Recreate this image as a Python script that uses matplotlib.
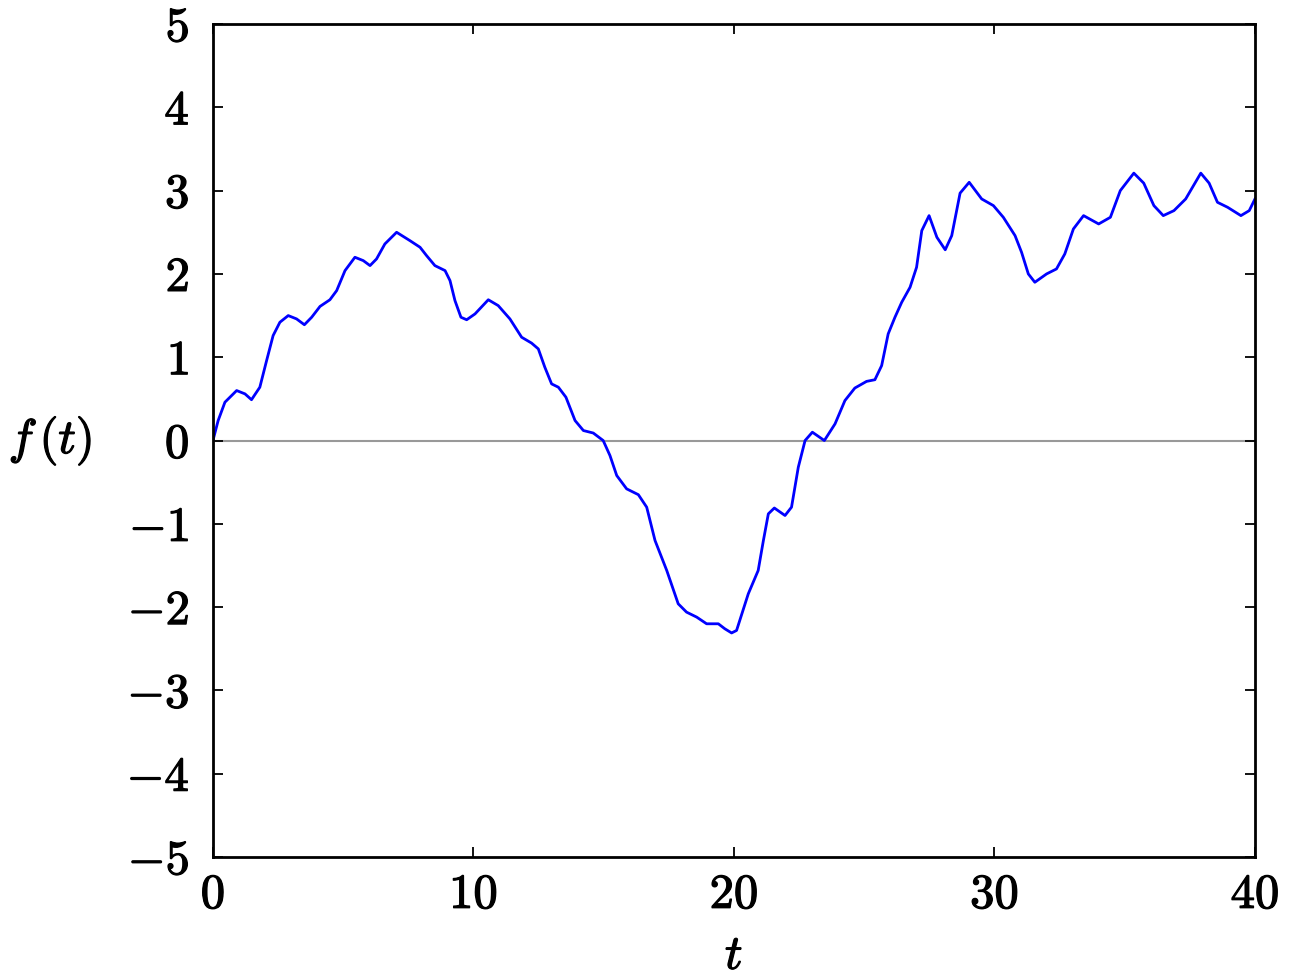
import matplotlib
matplotlib.use('Agg')
import matplotlib.pyplot as plt
import matplotlib.patheffects as pe

plt.rcParams['mathtext.fontset'] = 'cm'
plt.rcParams['font.family'] = 'serif'
plt.rcParams['font.serif'] = ['cmr10', 'DejaVu Serif']
plt.rcParams['axes.formatter.use_mathtext'] = True

# points
t = [0.0, 0.20, 0.46, 0.91, 1.23, 1.48, 1.80, 2.06, 2.31, 2.57, 2.89, 3.21, 3.51,
     3.79, 4.11, 4.49, 4.75, 5.07, 5.45, 5.77, 6.03, 6.28, 6.60, 7.05, 7.56,
     7.95, 8.20, 8.52, 8.91, 9.10, 9.29, 9.52, 9.74, 10.06, 10.57, 10.95,
     11.40, 11.85, 12.23, 12.49, 12.74, 13.00, 13.26, 13.55, 13.90, 14.22,
     14.60, 14.98, 15.24, 15.50, 15.88, 16.33, 16.65, 16.97, 17.42, 17.86,
     18.18, 18.57, 18.95, 19.40, 19.65, 19.91, 20.10, 20.55, 20.93, 21.13,
     21.32, 21.55, 21.96, 22.21, 22.47, 22.73, 23.01, 23.47, 23.88, 24.26,
     24.64, 25.09, 25.41, 25.67, 25.92, 26.18, 26.44, 26.76, 27.01, 27.21,
     27.49, 27.79, 28.11, 28.36, 28.68, 29.03, 29.51, 29.96, 30.34, 30.79,
     31.04, 31.30, 31.55, 32.00, 32.38, 32.70, 33.03, 33.42, 34.00, 34.45,
     34.83, 35.35, 35.73, 36.12, 36.48, 36.89, 37.34, 37.92, 38.24, 38.56,
     38.95, 39.46, 39.78, 40.0]
f = [0.0, 0.24, 0.46, 0.60, 0.56, 0.49, 0.64, 0.96, 1.26, 1.42, 1.50, 1.46, 1.39,
     1.48, 1.61, 1.69, 1.80, 2.04, 2.20, 2.16, 2.10, 2.18, 2.36, 2.50, 2.40,
     2.32, 2.22, 2.10, 2.04, 1.92, 1.68, 1.48, 1.45, 1.52, 1.69, 1.62,
     1.46, 1.24, 1.17, 1.10, 0.88, 0.68, 0.64, 0.52, 0.24, 0.12,
     0.09, 0.0, -0.18, -0.42, -0.58, -0.65, -0.80, -1.20, -1.56, -1.96,
     -2.06, -2.12, -2.20, -2.20, -2.26, -2.31, -2.28, -1.84, -1.56, -1.20,
     -0.88, -0.81, -0.90, -0.80, -0.32, 0.0, 0.10, 0.0, 0.20, 0.48,
     0.63, 0.71, 0.73, 0.90, 1.28, 1.48, 1.66, 1.84, 2.08, 2.52,
     2.70, 2.44, 2.29, 2.46, 2.97, 3.10, 2.90, 2.82, 2.68, 2.46,
     2.26, 2.00, 1.90, 2.00, 2.06, 2.24, 2.54, 2.70, 2.60, 2.68,
     3.00, 3.21, 3.09, 2.82, 2.70, 2.76, 2.90, 3.21, 3.09, 2.86,
     2.80, 2.70, 2.76, 2.90]

fig = plt.figure(figsize=(12.89, 9.77), dpi=100)
ax = fig.add_axes([0.1652, 0.1228, 0.8084, 0.8526])

ax.axhline(0, color='#999999', lw=1.5, zorder=1)
ax.plot(t, f, color='#0000ff', lw=2.0, zorder=2, solid_joinstyle='round')

ax.set_xlim(0, 40)
ax.set_ylim(-5, 5)
ax.set_xticks([0, 10, 20, 30, 40])
ax.set_yticks(range(-5, 6))

for s in ax.spines.values():
    s.set_linewidth(2.0)
ax.tick_params(direction='in', length=7, width=1.3, top=True, right=True,
               labelsize=35)
ax.tick_params(axis='y', pad=17)
ax.tick_params(axis='x', pad=12)

bold = [pe.withStroke(linewidth=0.9, foreground='black')]
for lab in ax.get_xticklabels() + ax.get_yticklabels():
    lab.set_path_effects(bold)

ax.set_xlabel(r'$t$', fontsize=35, labelpad=12, path_effects=bold)
ax.set_ylabel(r'$f\,(t)$', fontsize=35, rotation=0, labelpad=55, va='center',
              path_effects=bold)

fig.savefig('out.png', dpi=100)
